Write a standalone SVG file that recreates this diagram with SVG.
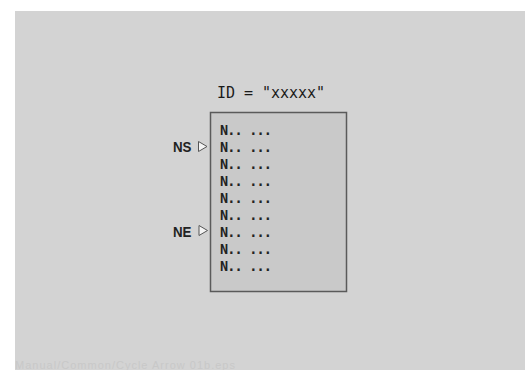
<svg xmlns="http://www.w3.org/2000/svg" width="525" height="370" viewBox="0 0 525 370">
<style>
.row{font-family:"DejaVu Sans Mono",monospace;font-weight:bold;font-size:13.5px;fill:#222}
.lbl{font-family:"Liberation Sans",Arial,sans-serif;font-weight:bold;font-size:15px;fill:#222}
.tri{fill:#f4f4f4;stroke:#555;stroke-width:1}
</style>
<rect x="0" y="0" width="525" height="370" fill="#ffffff"/>
<rect x="15" y="11" width="510" height="359" fill="#d3d3d3"/>
<text x="217" y="97.5" font-family="DejaVu Sans Mono,monospace" font-size="15" fill="#1a1a1a" textLength="108">ID = "xxxxx"</text>
<g id="block">
<rect x="210.5" y="112.5" width="136" height="179" fill="#c9c9c9" stroke="#5a5a5a" stroke-width="1.5"/>
<text class="row" x="220" y="135" textLength="52">N.. ...</text>
<text class="row" x="220" y="152" textLength="52">N.. ...</text>
<text class="row" x="220" y="169" textLength="52">N.. ...</text>
<text class="row" x="220" y="186" textLength="52">N.. ...</text>
<text class="row" x="220" y="203" textLength="52">N.. ...</text>
<text class="row" x="220" y="220" textLength="52">N.. ...</text>
<text class="row" x="220" y="237" textLength="52">N.. ...</text>
<text class="row" x="220" y="254" textLength="52">N.. ...</text>
<text class="row" x="220" y="271" textLength="52">N.. ...</text>
</g>
<g id="ns">
<text class="lbl" x="173" y="152" textLength="18.5" lengthAdjust="spacingAndGlyphs">NS</text>
<polygon class="tri" points="198.5,141.5 207,146.5 198.5,151.5"/>
</g>
<g id="ne">
<text class="lbl" x="173" y="236.5" textLength="18.5" lengthAdjust="spacingAndGlyphs">NE</text>
<polygon class="tri" points="199,225.5 207.5,230.5 199,235.5"/>
</g>
<text x="15" y="369" font-family="Liberation Sans,Arial,sans-serif" font-size="11" fill="#c8c8c8" textLength="220">Manual/Common/Cycle Arrow 01b.eps</text>
</svg>
